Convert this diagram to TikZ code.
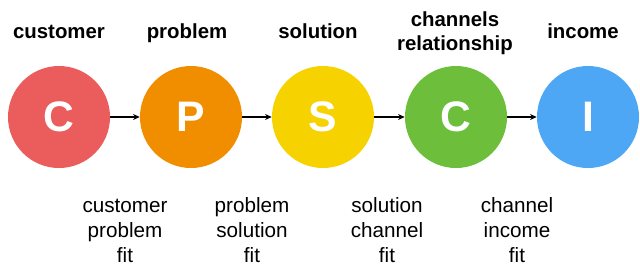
\documentclass[tikz,border=0pt]{standalone}
\usepackage{fontspec}
\setmainfont{Liberation Sans}
\usetikzlibrary{arrows.meta}
\definecolor{cred}{RGB}{235,92,92}
\definecolor{corange}{RGB}{241,142,0}
\definecolor{cyellow}{RGB}{245,210,0}
\definecolor{cgreen}{RGB}{108,190,59}
\definecolor{cblue}{RGB}{78,167,245}
\begin{document}
\begin{tikzpicture}[x=0.75pt,y=-0.75pt,
  ball/.style={circle,minimum size=76.5pt,inner sep=0pt,text=white,font=\fontsize{32}{32}\selectfont\bfseries},
  toplabel/.style={anchor=base,align=center,inner sep=0pt,font=\fontsize{15.3}{18}\selectfont\bfseries},
  fitlabel/.style={anchor=base,align=center,inner sep=0pt,font=\fontsize{15.5}{18.75}\selectfont},
  link/.style={-{Stealth[length=5pt,width=4.5pt]},line width=1.1pt,black}]
\useasboundingbox (0,0) rectangle (640,279);
\node[ball,fill=cred] (c1) at (59,117) {C};
\node[ball,fill=corange] (p) at (191,117) {P};
\node[ball,fill=cyellow] (s) at (323,117) {S};
\node[ball,fill=cgreen] (c2) at (456,117) {C};
\node[ball,fill=cblue] (i) at (588,117) {I};
\draw[link] (c1) -- (p);
\draw[link] (p) -- (s);
\draw[link] (s) -- (c2);
\draw[link] (c2) -- (i);
\node[toplabel] (l1) at (59,38) {customer};
\node[toplabel] (l2) at (187,38) {problem};
\node[toplabel] (l3) at (318,38) {solution};
\node[toplabel] (l4) at (455,50) {channels\\relationship};
\node[toplabel] (l5) at (583,38) {income};
\node[fitlabel] (f1) at (125,262) {customer\\problem\\fit};
\node[fitlabel] (f2) at (252,262) {problem\\solution\\fit};
\node[fitlabel] (f3) at (387,262) {solution\\channel\\fit};
\node[fitlabel] (f4) at (517,262) {channel\\income\\fit};
\end{tikzpicture}
\end{document}
